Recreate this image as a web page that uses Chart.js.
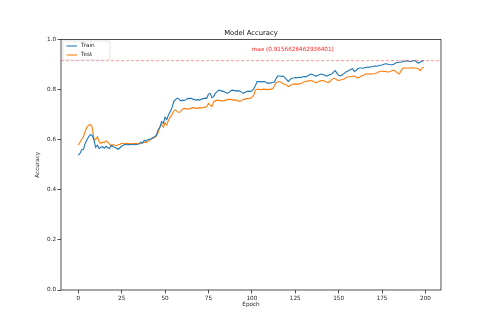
<!DOCTYPE html>
<html>
<head>
<meta charset="utf-8">
<script src="https://cdn.jsdelivr.net/npm/chart.js@4"></script>
<style>
  html, body { margin: 0; padding: 0; background: #fff; }
  #wrap { width: 490px; height: 326px; }
</style>
</head>
<body>
<div id="wrap"><canvas id="accChart" width="490" height="326"></canvas></div>
<script>
// accuracy per epoch
const trainAcc = [
  0.539, 0.545, 0.560, 0.562, 0.585, 0.600, 0.612, 0.620, 0.618, 0.600,
  0.570, 0.578, 0.565, 0.570, 0.572, 0.566, 0.574, 0.568, 0.565, 0.578,
  0.572, 0.570, 0.566, 0.562, 0.568, 0.574, 0.578, 0.582, 0.580, 0.581,
  0.580, 0.582, 0.581, 0.580, 0.582, 0.583, 0.590, 0.586, 0.598, 0.594,
  0.600, 0.602, 0.604, 0.608, 0.612, 0.618, 0.640, 0.648, 0.672, 0.665,
  0.690, 0.680, 0.700, 0.712, 0.728, 0.752, 0.760, 0.766, 0.762, 0.755,
  0.758, 0.756, 0.760, 0.765, 0.764, 0.766, 0.762, 0.760, 0.758, 0.760,
  0.758, 0.762, 0.764, 0.766, 0.765, 0.782, 0.785, 0.768, 0.772, 0.786,
  0.792, 0.798, 0.796, 0.794, 0.792, 0.788, 0.785, 0.790, 0.796, 0.798,
  0.796, 0.794, 0.796, 0.794, 0.790, 0.785, 0.788, 0.792, 0.794, 0.792,
  0.795, 0.802, 0.815, 0.832, 0.832, 0.831, 0.832, 0.832, 0.830, 0.825,
  0.826, 0.827, 0.828, 0.830, 0.845, 0.854, 0.854, 0.853, 0.854, 0.848,
  0.841, 0.832, 0.840, 0.845, 0.846, 0.848, 0.847, 0.849, 0.848, 0.850,
  0.852, 0.851, 0.854, 0.858, 0.862, 0.860, 0.856, 0.854, 0.856, 0.860,
  0.862, 0.860, 0.857, 0.854, 0.856, 0.860, 0.862, 0.870, 0.876, 0.866,
  0.856, 0.855, 0.858, 0.864, 0.870, 0.872, 0.877, 0.880, 0.883, 0.872,
  0.876, 0.883, 0.886, 0.886, 0.885, 0.887, 0.889, 0.890, 0.889, 0.891,
  0.893, 0.894, 0.893, 0.895, 0.897, 0.898, 0.901, 0.903, 0.902, 0.900,
  0.899, 0.899, 0.902, 0.907, 0.908, 0.909, 0.910, 0.911, 0.913, 0.915,
  0.914, 0.912, 0.913, 0.915, 0.916, 0.910, 0.906, 0.909, 0.914, 0.9157
];
const testAcc = [
  0.579, 0.590, 0.603, 0.612, 0.635, 0.650, 0.658, 0.661, 0.650, 0.605,
  0.600, 0.612, 0.592, 0.586, 0.590, 0.588, 0.596, 0.590, 0.582, 0.575,
  0.580, 0.578, 0.576, 0.580, 0.582, 0.586, 0.585, 0.584, 0.586, 0.585,
  0.585, 0.584, 0.585, 0.586, 0.584, 0.585, 0.586, 0.588, 0.590, 0.588,
  0.592, 0.598, 0.602, 0.606, 0.610, 0.614, 0.628, 0.652, 0.662, 0.650,
  0.668, 0.658, 0.678, 0.690, 0.700, 0.715, 0.719, 0.712, 0.709, 0.712,
  0.722, 0.725, 0.724, 0.722, 0.723, 0.726, 0.728, 0.727, 0.725, 0.726,
  0.728, 0.727, 0.728, 0.730, 0.732, 0.745, 0.738, 0.732, 0.752, 0.755,
  0.758, 0.757, 0.756, 0.755, 0.756, 0.758, 0.760, 0.762, 0.760, 0.758,
  0.759, 0.758, 0.756, 0.752, 0.756, 0.760, 0.762, 0.764, 0.765, 0.765,
  0.770, 0.776, 0.798, 0.801, 0.801, 0.800, 0.801, 0.802, 0.801, 0.800,
  0.801, 0.802, 0.803, 0.815, 0.828, 0.830, 0.832, 0.828, 0.824, 0.820,
  0.818, 0.812, 0.816, 0.820, 0.822, 0.823, 0.822, 0.822, 0.824, 0.826,
  0.830, 0.832, 0.834, 0.835, 0.836, 0.834, 0.830, 0.828, 0.830, 0.834,
  0.836, 0.836, 0.833, 0.830, 0.828, 0.832, 0.840, 0.845, 0.844, 0.838,
  0.837, 0.838, 0.840, 0.841, 0.846, 0.850, 0.851, 0.852, 0.853, 0.854,
  0.850, 0.846, 0.850, 0.854, 0.856, 0.860, 0.863, 0.862, 0.863, 0.862,
  0.863, 0.864, 0.866, 0.870, 0.873, 0.873, 0.872, 0.873, 0.870, 0.871,
  0.873, 0.876, 0.877, 0.871, 0.866, 0.862, 0.876, 0.885, 0.886, 0.886,
  0.885, 0.886, 0.887, 0.886, 0.886, 0.885, 0.882, 0.876, 0.886, 0.889
];
const epochs = Array.from({ length: trainAcc.length }, (_, i) => i);
const maxAcc = 0.9156626462936401;
const xTicks = [0, 25, 50, 75, 100, 125, 150, 175, 200];
const yTicks = [0.0, 0.2, 0.4, 0.6, 0.8, 1.0];

const FONT = 'DejaVu Sans';
const ink = '#262626';

// spines, titre, ligne max et légende façon matplotlib
const decor = {
  id: 'decor',
  afterDatasetsDraw(chart) {
    const { ctx, chartArea: a, scales } = chart;
    const yMax = scales.y.getPixelForValue(maxAcc);
    ctx.save();
    // ligne du max
    ctx.strokeStyle = 'rgba(255,40,40,0.6)';
    ctx.lineWidth = 0.8;
    ctx.setLineDash([3, 2]);
    ctx.beginPath();
    ctx.moveTo(a.left, yMax);
    ctx.lineTo(a.right, yMax);
    ctx.stroke();
    ctx.setLineDash([]);
    ctx.fillStyle = '#ff2020';
    ctx.font = '5.7px ' + FONT;
    ctx.textAlign = 'left';
    ctx.textBaseline = 'middle';
    ctx.fillText('max (' + maxAcc + ')', scales.x.getPixelForValue(100), scales.y.getPixelForValue(0.958));
    // cadre
    ctx.strokeStyle = ink;
    ctx.lineWidth = 0.8;
    ctx.strokeRect(a.left, a.top, a.right - a.left, a.bottom - a.top);
    // titre
    ctx.fillStyle = '#111';
    ctx.font = '6.8px ' + FONT;
    ctx.textAlign = 'center';
    ctx.textBaseline = 'bottom';
    ctx.fillText('Model Accuracy', (a.left + a.right) / 2, a.top - 3);
    // légende
    const lx = a.left + 2, ly = a.top + 1.5;
    ctx.fillStyle = 'rgba(255,255,255,0.85)';
    ctx.strokeStyle = '#d0d0d0';
    ctx.lineWidth = 0.6;
    ctx.beginPath();
    ctx.roundRect(lx, ly, 47, 19, 1.5);
    ctx.fill();
    ctx.stroke();
    ctx.font = '5.7px ' + FONT;
    ctx.textAlign = 'left';
    ctx.textBaseline = 'middle';
    chart.data.datasets.forEach((ds, i) => {
      const ry = ly + 5 + i * 9;
      ctx.strokeStyle = ds.borderColor;
      ctx.lineWidth = 1.1;
      ctx.beginPath();
      ctx.moveTo(lx + 3.5, ry);
      ctx.lineTo(lx + 14, ry);
      ctx.stroke();
      ctx.fillStyle = ink;
      ctx.fillText(ds.label, lx + 18, ry);
    });
    ctx.restore();
  }
};

new Chart(document.getElementById('accChart'), {
  type: 'line',
  data: {
    labels: epochs,
    datasets: [
      { label: 'Train', data: trainAcc, borderColor: '#1f77b4', borderWidth: 1.1, pointRadius: 0, tension: 0 },
      { label: 'Test', data: testAcc, borderColor: '#ff7f0e', borderWidth: 1.1, pointRadius: 0, tension: 0 }
    ]
  },
  options: {
    responsive: false,
    animation: false,
    events: [],
    layout: { padding: { left: 0, right: 49, top: 39.5, bottom: 0 } },
    plugins: { legend: { display: false }, tooltip: { enabled: false }, title: { display: false } },
    scales: {
      x: {
        type: 'linear',
        min: -9.95,
        max: 208.95,
        afterBuildTicks: s => { s.ticks = xTicks.map(v => ({ value: v })); },
        afterFit: s => { s.height = 36; },
        grid: { drawOnChartArea: false, tickLength: 3.5, color: ink, lineWidth: 0.8 },
        border: { display: false },
        ticks: { color: ink, font: { family: FONT, size: 5.7 }, padding: 1.5, maxRotation: 0 },
        title: { display: true, text: 'Epoch', color: ink, font: { family: FONT, size: 5.7 }, padding: { top: 0, bottom: 18.5 } }
      },
      y: {
        min: 0,
        max: 1,
        afterBuildTicks: s => { s.ticks = yTicks.map(v => ({ value: v })); },
        afterFit: s => { s.width = 61; },
        grid: { drawOnChartArea: false, tickLength: 3.5, color: ink, lineWidth: 0.8 },
        border: { display: false },
        ticks: { color: ink, font: { family: FONT, size: 5.7 }, padding: 1.5, callback: v => v.toFixed(1) },
        title: { display: true, text: 'Accuracy', color: ink, font: { family: FONT, size: 5.7 }, padding: { top: 34.5, bottom: 0 } }
      }
    }
  },
  plugins: [decor]
});
</script>
</body>
</html>
